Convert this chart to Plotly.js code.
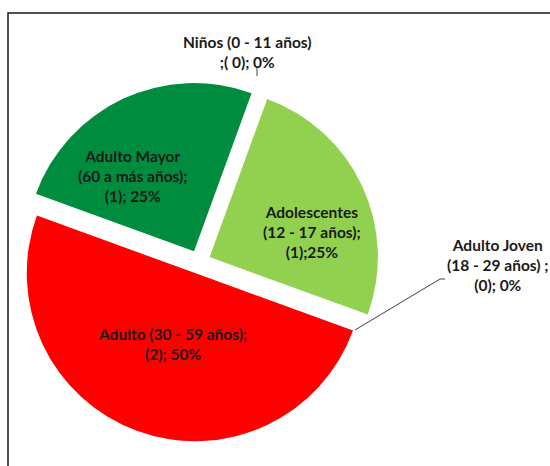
<!DOCTYPE html>
<html>
<head>
<meta charset="utf-8">
<script src="https://cdn.plot.ly/plotly-3.0.1.min.js"></script>
<style>html,body{margin:0;padding:0;background:#fff;}#chart{width:550px;height:466px;}</style>
</head>
<body>
<div id="chart"></div>
<script>
// ---- data ----
var categories = ['Niños (0 - 11 años)', 'Adolescentes (12 - 17 años)', 'Adulto Joven (18 - 29 años)', 'Adulto (30 - 59 años)', 'Adulto Mayor (60 a más años)'];
var labelLines = [
  'Niños (0 - 11 años)',
  'Adolescentes<br>(12 - 17 años);',
  'Adulto Joven<br>(18 - 29 años) ;',
  'Adulto (30 - 59 años);',
  'Adulto Mayor<br>(60 a más años);'
];
var counts = [0, 1, 0, 2, 1];
var countFormat = [';( {v}); {p}', '({v});{p}', '({v}); {p}', '({v}); {p}', '({v}); {p}'];
var colors = ['#4472C4', '#92D050', '#ED7D31', '#FF0000', '#008C3E'];

// ---- build ----
var W = 550, H = 466;
function px(x) { return x / W; }
function py(y) { return 1 - y / H; }
var fontFam = 'Lato, "Open Sans", sans-serif';
var labelFont = { family: fontFam, size: 15.5, color: '#1a1a1a', weight: 'bold' };
var total = counts.reduce(function (a, b) { return a + b; }, 0);

function labelText(i) {
  var pct = Math.round(counts[i] / total * 100) + '%';
  return labelLines[i] + '<br>' + countFormat[i].replace('{v}', counts[i]).replace('{p}', pct);
}

var cx = 199, cy = 262, half = 180;
var trace = {
  type: 'pie',
  labels: categories,
  values: counts,
  sort: false,
  direction: 'clockwise',
  rotation: 20,
  pull: 0.07,
  marker: { colors: colors, line: { width: 0 } },
  textinfo: 'none',
  hoverinfo: 'label+value+percent',
  showlegend: false,
  domain: { x: [px(cx - half), px(cx + half)], y: [py(cy + half), py(cy - half)] }
};

// label positions (pixel centres) for each slice label
var labelPos = [[247, 52], [312, 232], [498, 265], [172, 344], [133, 176]];
var annotations = counts.map(function (v, i) {
  return {
    xref: 'paper', yref: 'paper', x: px(labelPos[i][0]), y: py(labelPos[i][1]),
    xanchor: 'center', yanchor: 'middle', showarrow: false, align: 'center',
    text: labelText(i), font: labelFont
  };
});

var layout = {
  width: W, height: H,
  margin: { l: 0, r: 0, t: 0, b: 0 },
  paper_bgcolor: '#ffffff',
  plot_bgcolor: '#ffffff',
  annotations: annotations,
  shapes: [
    { type: 'rect', xref: 'paper', yref: 'paper', x0: px(8), x1: px(600), y0: py(520), y1: py(13),
      line: { color: '#1a1a1a', width: 1.5 }, fillcolor: 'rgba(0,0,0,0)', layer: 'below' },
    { type: 'line', xref: 'paper', yref: 'paper', x0: px(257), x1: px(257), y0: py(66), y1: py(76),
      line: { color: '#404040', width: 1 } },
    { type: 'path', xref: 'paper', yref: 'paper',
      path: 'M ' + px(355) + ' ' + py(330) + ' L ' + px(440) + ' ' + py(279) + ' L ' + px(445) + ' ' + py(279),
      line: { color: '#404040', width: 1 } }
  ]
};

Plotly.newPlot('chart', [trace], layout, { displayModeBar: false, staticPlot: true });
</script>
</body>
</html>
